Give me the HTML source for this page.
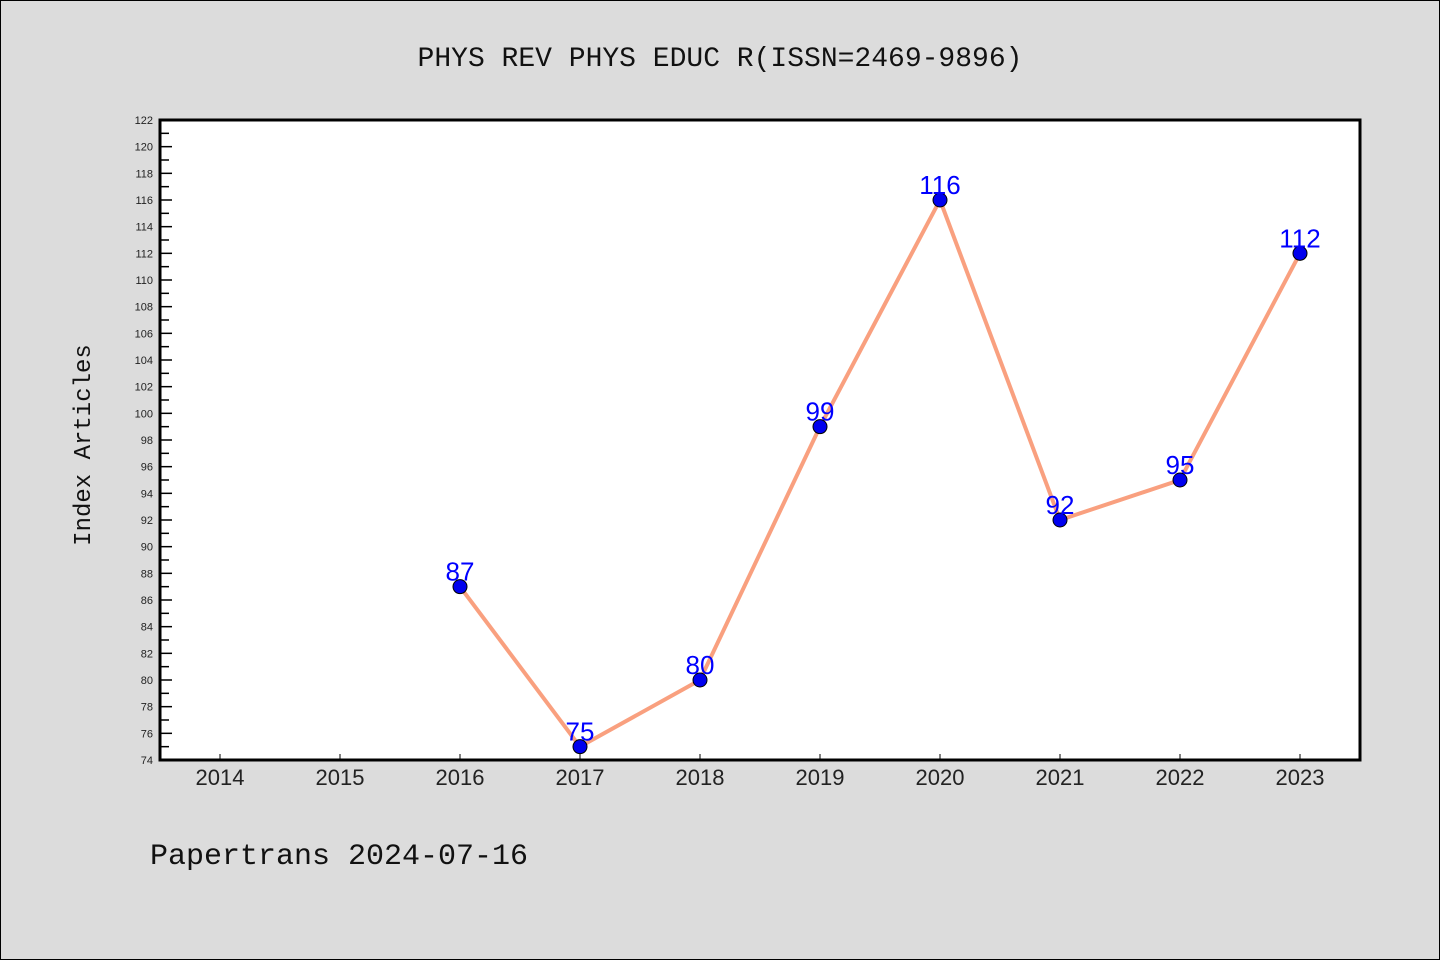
<!DOCTYPE html>
<html><head><meta charset="utf-8"><style>
body{margin:0;background:#dcdcdc;}
svg{display:block;font-family:"Liberation Sans","WenQuanYi Zen Hei",sans-serif;}
</style></head><body>
<svg id="chart" width="1440" height="960">
<rect x="0.5" y="0.5" width="1439" height="959" fill="#dcdcdc" stroke="#000"/>
<text x="720" y="66" text-anchor="middle" font-size="28" font-family="WenQuanYi Zen Hei, Liberation Mono, monospace" fill="#111">PHYS REV PHYS EDUC R(ISSN=2469-9896)</text>
<rect x="160" y="120" width="1200" height="640" fill="#fff"/>
<g id="axes"></g>
<text transform="translate(90,445) rotate(-90)" text-anchor="middle" font-size="24" font-family="WenQuanYi Zen Hei, Liberation Mono, monospace" fill="#111">Index Articles</text>
<text x="150" y="864" font-size="30" font-family="WenQuanYi Zen Hei, Liberation Mono, monospace" fill="#111">Papertrans 2024-07-16</text>
</svg>
<script>
const years=[2014,2015,2016,2017,2018,2019,2020,2021,2022,2023];
const dataYears=[2016,2017,2018,2019,2020,2021,2022,2023];
const values=[87,75,80,99,116,92,95,112];
const yMin=74,yMax=122;
const NS="http://www.w3.org/2000/svg";
const g=document.getElementById('axes');
function X(yr){return 220+(yr-2014)*120;}
function Y(v){return 760-(v-yMin)*(640/(yMax-yMin));}
function mk(t,a,p){const e=document.createElementNS(NS,t);for(const k in a)e.setAttribute(k,a[k]);(p||g).appendChild(e);return e;}
for(let v=yMin;v<=yMax;v++){
  const major=(v%2===0);
  const t=mk('line',{x1:160,x2:major?172:169,y1:Y(v),y2:Y(v),stroke:'#000','stroke-width':1.5});
  
  
  if(major){
    const l=mk('text',{x:153,y:Y(v)+4,'text-anchor':'end','font-size':11,fill:'#222'});
    l.textContent=v;
    
    
  }
}
years.forEach(yr=>{
  const t=mk('line',{x1:X(yr),x2:X(yr),y1:760,y2:754,stroke:'#000','stroke-width':1});
  
  
  const l=mk('text',{x:X(yr),y:785,'text-anchor':'middle','font-size':22,fill:'#222'});
  l.textContent=yr;
  
  
});
const frame=mk('rect',{x:160,y:120,width:1200,height:640,fill:'none',stroke:'#000','stroke-width':3});


const pts=dataYears.map((yr,i)=>X(yr)+','+Y(values[i])).join(' ');
const line=mk('polyline',{points:pts,fill:'none',stroke:'#f9a07f','stroke-width':4,'stroke-linejoin':'round'});


dataYears.forEach((yr,i)=>{
  const c=mk('circle',{cx:X(yr),cy:Y(values[i]),r:7,fill:'#0000ee',stroke:'#000','stroke-width':1});
  
  
  const l=mk('text',{x:X(yr),y:Y(values[i])-6,'text-anchor':'middle','font-size':26,fill:'#0000ff'});
  l.textContent=values[i];
  
  
});
</script>
</body></html>
